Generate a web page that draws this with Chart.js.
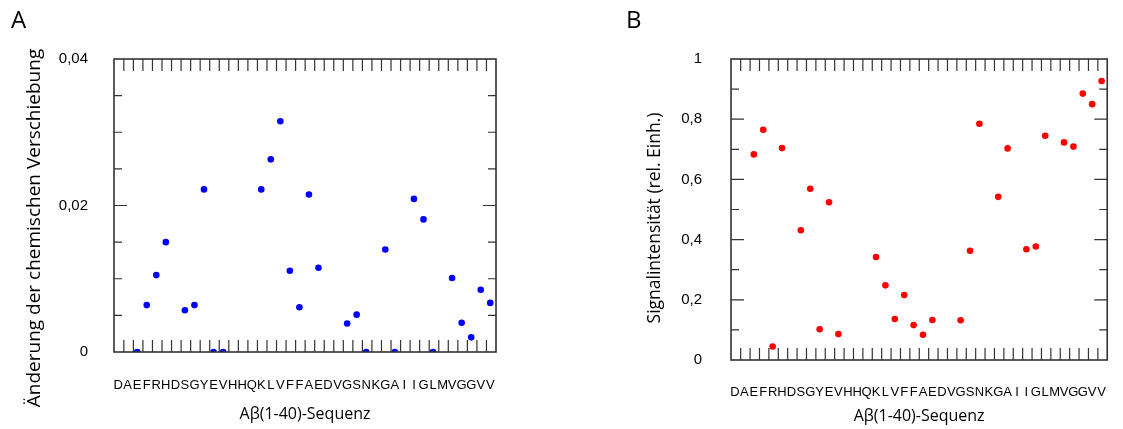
<!DOCTYPE html>
<html>
<head>
<meta charset="utf-8">
<script src="https://cdn.jsdelivr.net/npm/chart.js@4.4.0/dist/chart.umd.min.js"></script>
<style>
  body { margin: 0; background: #fff; width: 1123px; height: 429px; overflow: hidden; position: relative; }
  .box { position: absolute; top: 0; height: 429px; }
  #boxA { left: 0; width: 560px; }
  #boxB { left: 560px; width: 563px; }
</style>
</head>
<body>
<div class="box" id="boxA"><canvas id="chartA"></canvas></div>
<div class="box" id="boxB"><canvas id="chartB"></canvas></div>
<script>
// Abeta(1-40) sequence, one letter per residue
const sequence = "DAEFRHDSGYEVHHQKLVFFAEDVGSNKGAIIGLMVGGVV".split("");
// residues with a measured value
const residues = [3, 4, 5, 6, 8, 9, 10, 11, 12, 16, 17, 18, 19, 20, 21, 22, 25, 26, 27, 29, 30, 32, 33, 34, 36, 37, 38, 39, 40];
// A: Änderung der chemischen Verschiebung
const shiftValues = [0, 0.0064, 0.0105, 0.015, 0.0057, 0.0064, 0.0222, 0, 0, 0.0222, 0.0263, 0.0315, 0.0111, 0.0061, 0.0215, 0.0115, 0.0039, 0.0051, 0, 0.014, 0, 0.0209, 0.0181, 0, 0.0101, 0.004, 0.002, 0.0085, 0.0067];
// B: Signalintensität
const intensityValues = [0.683, 0.765, 0.045, 0.704, 0.431, 0.569, 0.102, 0.524, 0.086, 0.342, 0.248, 0.136, 0.216, 0.116, 0.084, 0.133, 0.132, 0.363, 0.785, 0.542, 0.703, 0.368, 0.377, 0.745, 0.723, 0.709, 0.885, 0.85, 0.927];
const shiftTicks = [0, 0.02, 0.04];
const intensityTicks = [0, 0.2, 0.4, 0.6, 0.8, 1];

// frame with inward tick marks on all four sides
const framePlugin = {
  id: "frame",
  afterDatasetsDraw(chart, args, opts) {
    const { ctx, chartArea: a, scales } = chart;
    const x = scales.x, y = scales.y;
    ctx.save();
    ctx.strokeStyle = "#333";
    ctx.lineWidth = 1.2;
    ctx.beginPath();
    for (let k = 1; k < sequence.length; k++) {
      const px = x.getPixelForValue(k + 0.6);
      ctx.moveTo(px, a.bottom); ctx.lineTo(px, a.bottom - 12);
      ctx.moveTo(px, a.top); ctx.lineTo(px, a.top + 12);
    }
    const n = Math.round((y.max - y.min) / opts.step);
    for (let i = 1; i < n; i++) {
      const v = y.min + i * opts.step;
      const py = y.getPixelForValue(v);
      const len = i % opts.major === 0 ? 13 : 8;
      ctx.moveTo(a.left, py); ctx.lineTo(a.left + len, py);
      ctx.moveTo(a.right, py); ctx.lineTo(a.right - len, py);
    }
    ctx.stroke();
    ctx.lineWidth = 1.6;
    ctx.strokeRect(a.left, a.top, a.right - a.left, a.bottom - a.top);
    ctx.restore();
  },
};

// panel letter and rotated y title
const notesPlugin = {
  id: "notes",
  afterDraw(chart, args, opts) {
    const ctx = chart.ctx;
    ctx.save();
    ctx.fillStyle = "#000";
    ctx.font = "24px 'Open Sans'";
    ctx.textAlign = "left";
    ctx.textBaseline = "alphabetic";
    ctx.fillText(opts.panel, opts.panelX, 28);
    ctx.translate(opts.titleX, opts.titleY);
    ctx.rotate(-Math.PI / 2);
    ctx.font = opts.size + "px 'Open Sans'";
    ctx.textAlign = "center";
    ctx.textBaseline = "middle";
    ctx.fillText(opts.text, 0, 0);
    ctx.restore();
  },
};

function makeChart(id, cfg) {
  return new Chart(document.getElementById(id), {
    type: "scatter",
    data: {
      datasets: [{
        data: residues.map((r, i) => ({ x: r, y: cfg.values[i] })),
        backgroundColor: cfg.color,
        borderWidth: 0,
        pointRadius: 3.3,
      }],
    },
    options: {
      responsive: true,
      maintainAspectRatio: false,
      animation: false,
      events: [],
      layout: { padding: { top: 59, right: cfg.padRight, left: 0, bottom: 0 } },
      plugins: {
        legend: { display: false },
        tooltip: { enabled: false },
        frame: { step: cfg.step, major: cfg.major },
        notes: cfg.notes,
      },
      scales: {
        x: {
          type: "linear",
          min: 0.57,
          max: 40.6,
          grid: { display: false },
          border: { display: false },
          afterBuildTicks: (s) => { s.ticks = sequence.map((_, i) => ({ value: i + 1 })); },
          afterFit: (s) => { s.height = cfg.xHeight; },
          ticks: {
            autoSkip: false,
            maxRotation: 0,
            padding: cfg.labelPad,
            color: "#000",
            font: { family: "'Liberation Sans', Arial", size: 13 },
            callback: (v) => sequence[v - 1],
          },
          title: {
            display: true,
            text: "Aβ(1-40)-Sequenz",
            color: "#000",
            font: { family: "'Open Sans'", size: 16 },
            padding: { top: 0, bottom: cfg.titlePad },
          },
        },
        y: {
          min: 0,
          max: cfg.max,
          grid: { display: false },
          border: { display: false },
          afterBuildTicks: (s) => { s.ticks = cfg.ticks.map((v) => ({ value: v })); },
          afterFit: (s) => { s.width = cfg.yWidth; },
          ticks: {
            padding: cfg.yPad,
            color: "#000",
            font: { family: "'Liberation Sans', Arial", size: 15 },
            callback: (v) => String(v).replace(".", ","),
          },
        },
      },
    },
    plugins: [framePlugin, notesPlugin],
  });
}

makeChart("chartA", {
  values: shiftValues, color: "#0000ff", max: 0.04, ticks: shiftTicks,
  step: 0.005, major: 4, padRight: 64, yWidth: 114, yPad: 18,
  xHeight: 77, labelPad: 18, titlePad: 5,
  notes: { panel: "A", panelX: 11, size: 19, text: "Änderung der chemischen Verschiebung", titleX: 35, titleY: 228 },
});

makeChart("chartB", {
  values: intensityValues, color: "#ff0000", max: 1, ticks: intensityTicks,
  step: 0.1, major: 2, padRight: 2, yWidth: 171, yPad: 21,
  xHeight: 69, labelPad: 17, titlePad: 3,
  notes: { panel: "B", panelX: 66, size: 17.5, text: "Signalintensität (rel. Einh.)", titleX: 95, titleY: 218 },
});
</script>
</body>
</html>
